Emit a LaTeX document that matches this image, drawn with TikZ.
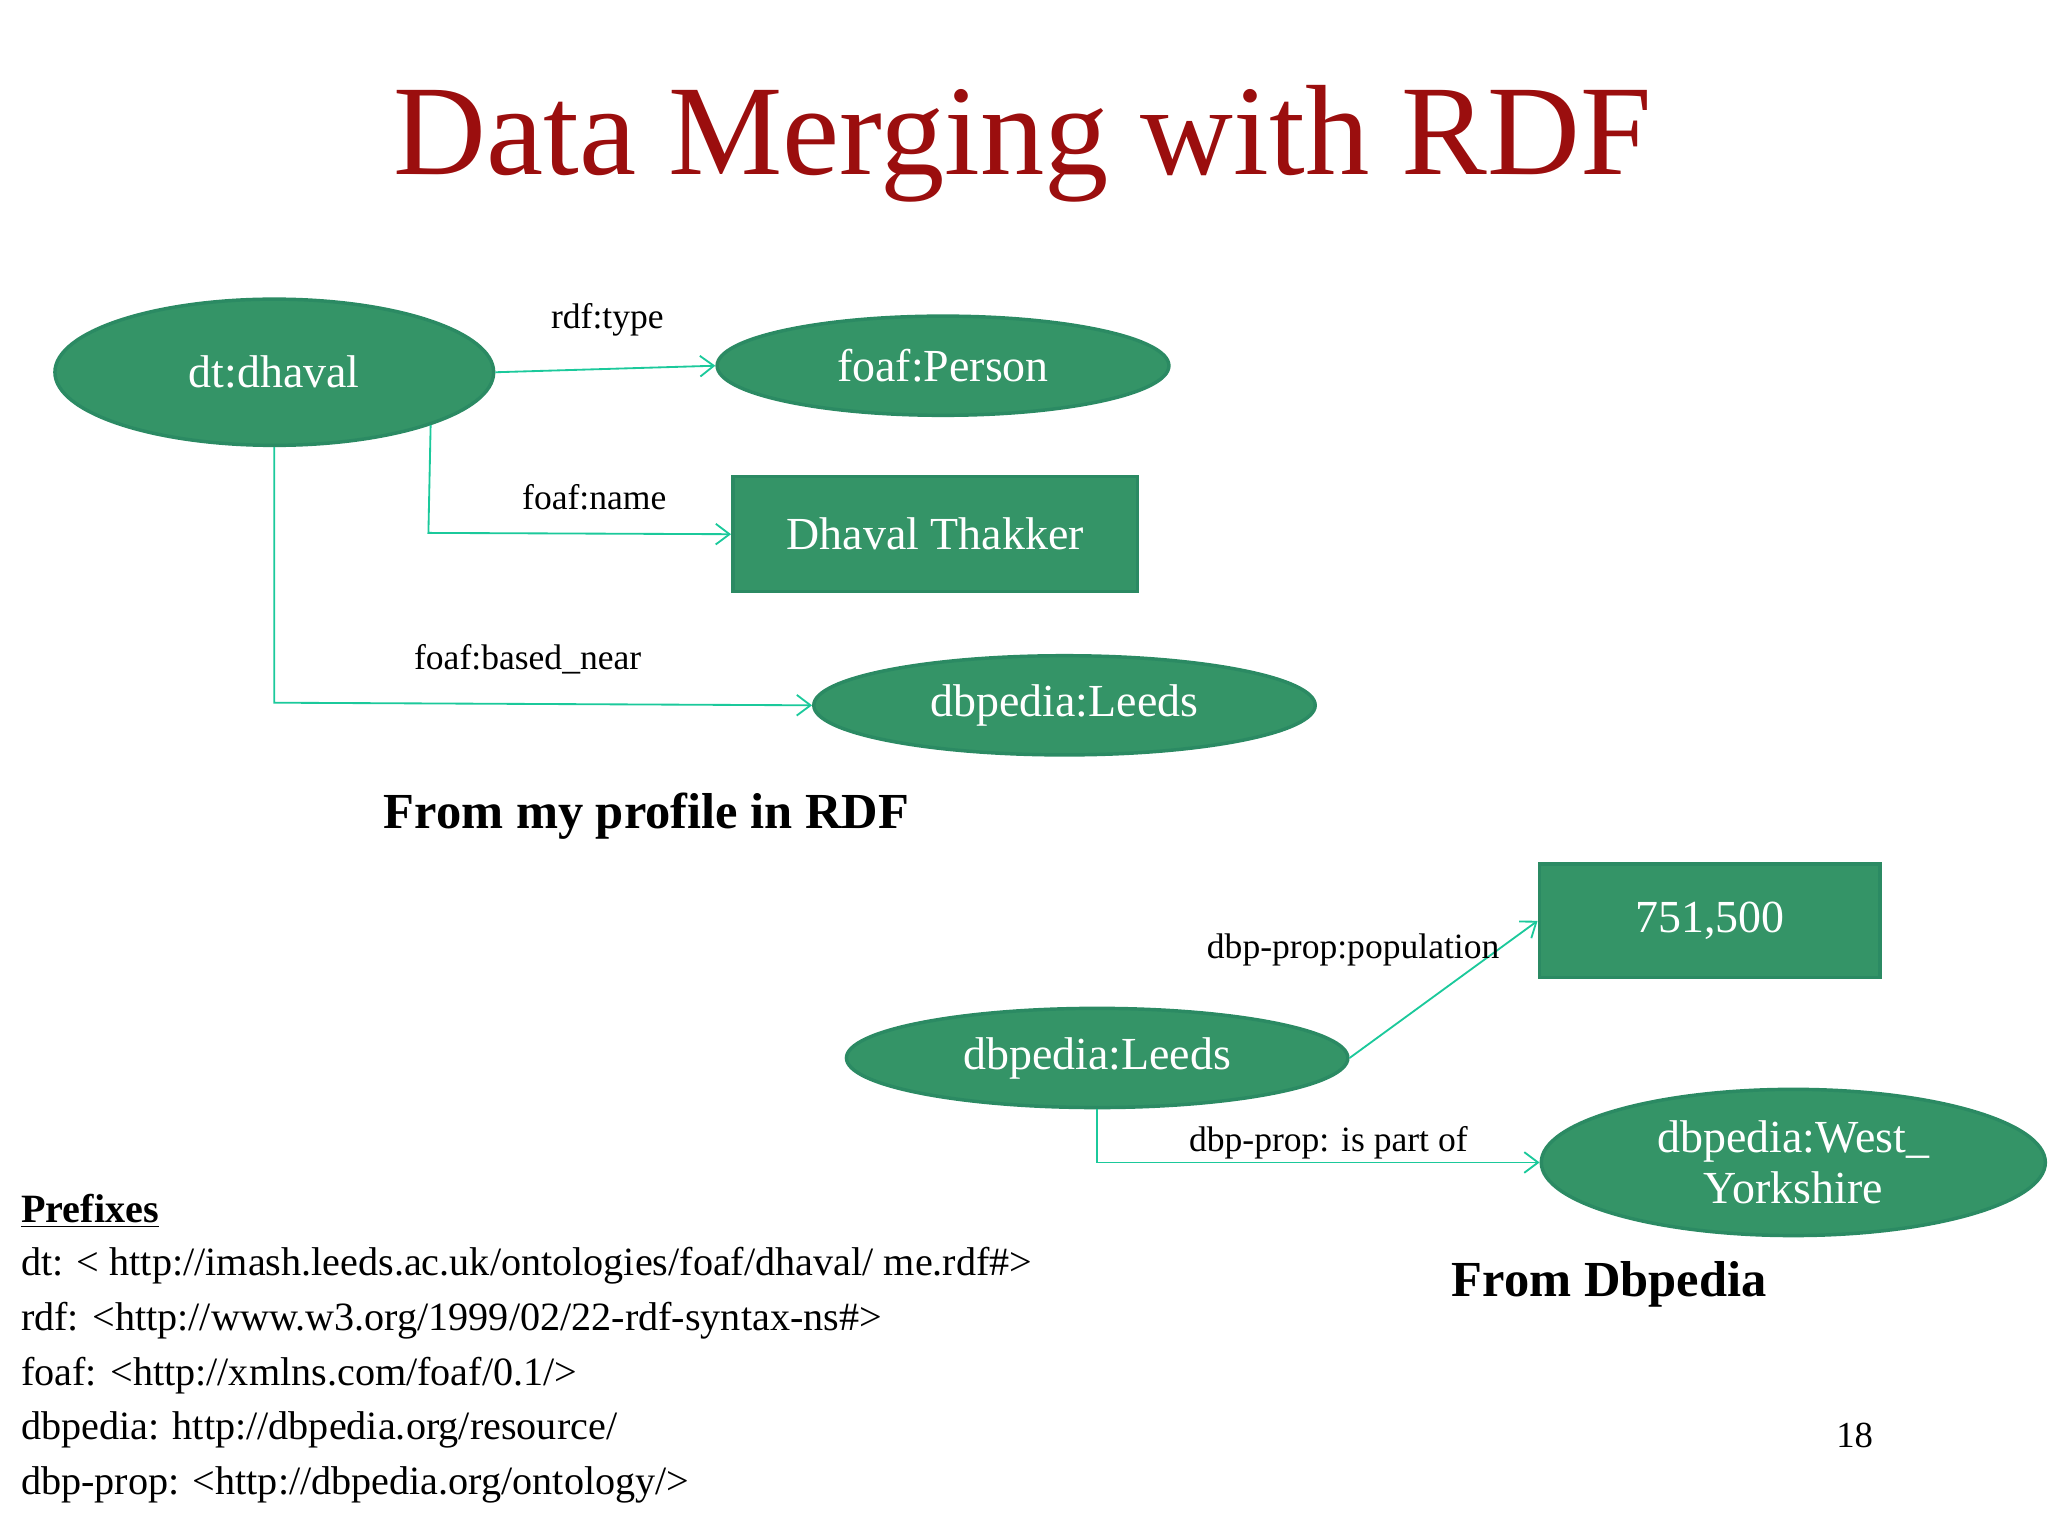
\documentclass[tikz,border=0pt]{standalone}
\usepackage{fontspec}
\setmainfont{Liberation Serif}
\usetikzlibrary{shapes.geometric,arrows.meta}
\definecolor{nodefill}{HTML}{349467}
\definecolor{nodeline}{HTML}{2B8A63}
\definecolor{edgec}{HTML}{1BC99B}
\definecolor{titlec}{HTML}{9B0E0E}
\begin{document}
\begin{tikzpicture}[x=0.02cm,y=-0.02cm,
  ell/.style={ellipse,draw=nodeline,line width=1.5pt,fill=nodefill,text=white,font=\fontsize{20}{22}\selectfont,inner sep=0pt},
  rbox/.style={rectangle,draw=nodeline,line width=1.5pt,fill=nodefill,text=white,font=\fontsize{20}{22}\selectfont,inner sep=0pt},
  conn/.style={draw=edgec,line width=0.8pt,-{Straight Barb[length=6pt,width=9pt]}},
  elab/.style={font=\fontsize{15.5}{17}\selectfont},
  captext/.style={font=\bfseries\fontsize{22}{24}\selectfont},
  pref/.style={font=\fontsize{17.5}{19}\selectfont,anchor=west}]
\useasboundingbox (0,0) rectangle (1568,1176);
\node[font=\fontsize{56}{60}\selectfont,text=titlec] (title) at (783,110) {Data Merging with RDF};
\node[ell,minimum width=6.72cm,minimum height=2.24cm] (dh) at (210,285) {dt:dhaval};
\node[ell,minimum width=6.92cm,minimum height=1.52cm] (fp) at (722,280) {foaf:Person};
\node[rbox,minimum width=6.2cm,minimum height=1.76cm] (dt) at (716,409) {Dhaval Thakker};
\node[ell,minimum width=7.68cm,minimum height=1.52cm] (l1) at (815,540) {dbpedia:Leeds};
\node[captext] (c1) at (495,625) {From my profile in RDF};
\node[rbox,minimum width=5.22cm,minimum height=1.74cm] (pop) at (1309,705) {751,500};
\node[ell,minimum width=7.68cm,minimum height=1.52cm] (l2) at (840,810) {dbpedia:Leeds};
\node[ell,minimum width=7.72cm,minimum height=2.24cm,align=center] (wy) at (1373,890) {dbpedia:West\_\\Yorkshire};
\node[captext] (c2) at (1232,983) {From Dbpedia};
\coordinate (d1) at (328,408);
\coordinate (d2) at (210,538);
\coordinate (d3) at (840,890);
\draw[conn] (dh.east) -- (fp.west);
\draw[conn] (dh.south east) -- (d1) -- (dt.west);
\draw[conn] (dh.south) -- (d2) -- (l1.west);
\draw[conn] (l2.east) -- (pop.west);
\draw[conn] (l2.south) -- (d3) -- (wy.west);
\node[elab] (e1) at (465,245) {rdf:type};
\node[elab] (e2) at (455,381) {foaf:name};
\node[elab] (e3) at (404,505) {foaf:based\_near};
\node[elab] (e4) at (1036,727) {dbp-prop:population};
\node[elab] (e5) at (1017,875) {dbp-prop: is part of};
\node[pref,font=\bfseries\fontsize{17.5}{19}\selectfont] (p0) at (10,927) {\underline{Prefixes}};
\node[pref] (p1) at (10,969) {dt: < http://imash.leeds.ac.uk/ontologies/foaf/dhaval/ me.rdf\#>};
\node[pref] (p2) at (10,1011) {rdf: <http://www.w3.org/1999/02/22-rdf-syntax-ns\#>};
\node[pref] (p3) at (10,1053) {foaf: <http://xmlns.com/foaf/0.1/>};
\node[pref] (p4) at (10,1095) {dbpedia: http://dbpedia.org/resource/};
\node[pref] (p5) at (10,1137) {dbp-prop: <http://dbpedia.org/ontology/>};
\node[font=\fontsize{16}{18}\selectfont] (pg) at (1420,1099) {18};
\end{tikzpicture}
\end{document}
